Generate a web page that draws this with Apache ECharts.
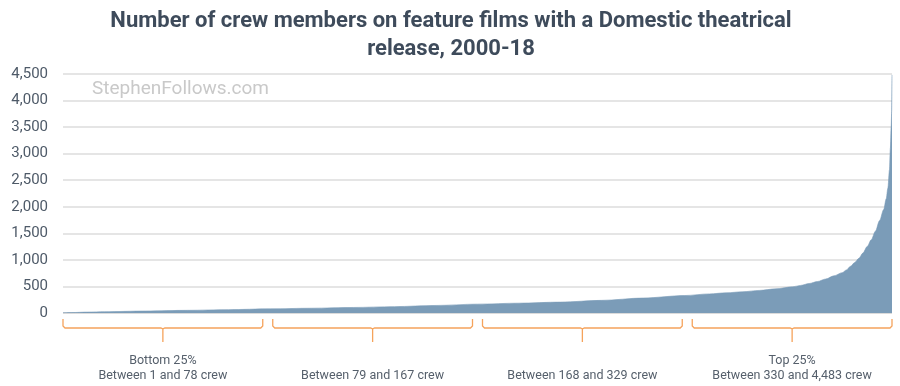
<!DOCTYPE html>
<html>
<head>
<meta charset="utf-8">
<script src="https://cdn.jsdelivr.net/npm/echarts@6/dist/echarts.min.js"></script>
<style>html,body{margin:0;padding:0;background:#fff}#c{width:900px;height:386px}</style>
</head>
<body>
<div id="c"></div>
<script>
// Percentile of films (sorted by crew size) and crew count
const percentiles = [0, 1, 3, 5, 10, 15, 20, 25, 30, 35, 40, 45, 50, 55, 60, 65, 70, 75, 78, 80, 82, 84, 86, 88, 89, 90, 91, 92, 93, 94, 94.5, 95, 95.5, 96, 96.5, 97, 97.5, 98, 98.5, 99, 99.3, 99.5, 99.7, 99.8, 99.9, 99.96, 100];
const crewCounts  = [1, 8, 17, 24, 37, 50, 63, 78, 90, 104, 120, 142, 167, 185, 205, 238, 282, 329, 360, 380, 400, 425, 455, 492, 520, 555, 592, 640, 700, 760, 810, 880, 950, 1030, 1130, 1250, 1380, 1540, 1740, 1950, 2150, 2350, 2700, 3100, 3500, 3800, 4483];
const yTicks = [0, 500, 1000, 1500, 2000, 2500, 3000, 3500, 4000, 4500];
const groupTitles = ["Bottom 25%", "", "", "Top 25%"];
const groupRanges = ["Between 1 and 78 crew", "Between 79 and 167 crew", "Between 168 and 329 crew", "Between 330 and 4,483 crew"];

const chart = echarts.init(document.getElementById('c'), null, {renderer: 'canvas'});
const data = percentiles.map((p, i) => [p, crewCounts[i]]);
const option = {
  animation: false,
  title: {
    text: 'Number of crew members on feature films with a Domestic theatrical\nrelease, 2000-18',
    left: 446, top: 2, textAlign: 'center',
    textStyle: {fontFamily: 'Roboto', fontWeight: 'bold', fontSize: 22, color: '#3e4b5b', lineHeight: 28}
  },
  grid: {left: 63, right: 8, top: 74, bottom: 73},
  xAxis: {type: 'value', min: 0, max: 100, show: false},
  yAxis: {
    type: 'value', min: yTicks[0], max: yTicks[yTicks.length - 1], interval: 500,
    axisLine: {show: false}, axisTick: {show: false},
    axisLabel: {fontFamily: 'Roboto', fontSize: 15, color: '#4e5a68', margin: 15,
      formatter: v => v.toLocaleString('en-US')},
    splitLine: {lineStyle: {color: '#dcdcdc', width: 1.5}}
  },
  series: [{
    type: 'line', data: data, showSymbol: false, silent: true,
    smooth: 0.3, smoothMonotone: 'x',
    lineStyle: {color: '#7b9cb8', width: 0.6},
    areaStyle: {color: '#7b9cb8', opacity: 1}
  }]
};
chart.setOption(option);

// Annotation brackets under the axis
const x0 = chart.convertToPixel({xAxisIndex: 0}, 0);
const x1 = chart.convertToPixel({xAxisIndex: 0}, 100);
const y0 = chart.convertToPixel({yAxisIndex: 0}, 0);
const gap = 10, w = (x1 - x0 - 3 * gap) / 4;
const orange = '#f5a35c';
const graphics = [{
  type: 'text', left: 92, top: 80,
  style: {text: 'StephenFollows.com', fontFamily: 'Roboto', fontSize: 19, fill: '#c9c9c9'}
}, {
  type: 'line', shape: {x1: x0, y1: y0, x2: x1, y2: y0}, style: {stroke: '#d8d8d8', lineWidth: 1.5}
}];
for (let i = 0; i < 4; i++) {
  const a = x0 + i * (w + gap), b = a + w, c = (a + b) / 2;
  const yt = y0 + 6, yb = y0 + 15, ym = y0 + 29;
  graphics.push({
    type: 'polyline',
    shape: {points: [[a, yt], [a, yb - 2], [a + 2, yb], [c - 2, yb], [c, yb + 1], [c, ym], [c, yb + 1], [c + 2, yb], [b - 2, yb], [b, yb - 2], [b, yt]]},
    style: {stroke: orange, lineWidth: 1.3, fill: null}
  });
  const txt = (groupTitles[i] ? groupTitles[i] + '\n' : '') + groupRanges[i];
  graphics.push({
    type: 'text', x: c, y: y0 + 70,
    style: {text: txt, fontFamily: 'Roboto', fontSize: 12.5, fill: '#555f6b', align: 'center', verticalAlign: 'bottom', lineHeight: 15}
  });
}
chart.setOption({graphic: graphics});
</script>
</body>
</html>
